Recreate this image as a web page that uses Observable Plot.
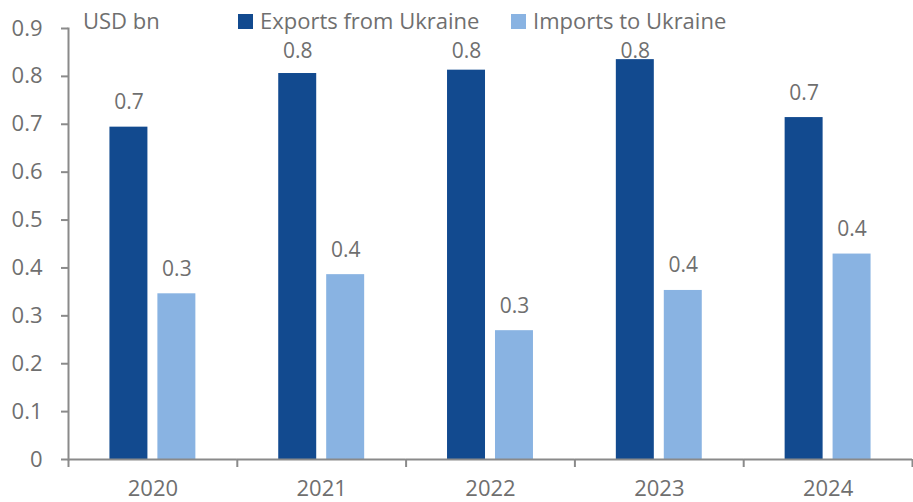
<!DOCTYPE html>
<html>
<head>
<meta charset="utf-8">
<script src="https://cdn.jsdelivr.net/npm/d3@7"></script>
<script src="https://cdn.jsdelivr.net/npm/@observablehq/plot@0.6"></script>
<style>
  html, body { margin: 0; padding: 0; background: #fff; }
  #wrap { position: relative; width: 913px; height: 502px; font-family: "Open Sans", sans-serif; color: #6f6f6f; }
  .lg { position: absolute; font-size: 22px; line-height: 18px; white-space: nowrap; }
  .sw { position: absolute; width: 15px; height: 15px; }
</style>
</head>
<body>
<div id="wrap"></div>
<script>
const years = ["2020", "2021", "2022", "2023", "2024"];
const series = ["Exports from Ukraine", "Imports to Ukraine"];
const exportsVals = [0.694, 0.806, 0.813, 0.835, 0.714];
const importsVals = [0.346, 0.386, 0.269, 0.353, 0.429];
const yTicks = [0, 0.1, 0.2, 0.3, 0.4, 0.5, 0.6, 0.7, 0.8, 0.9];
const colors = ["#124A8F", "#89B3E2"];
const unitLabel = "USD bn";

const data = years.flatMap((yr, i) => [
  {year: yr, series: series[0], value: exportsVals[i]},
  {year: yr, series: series[1], value: importsVals[i]}
]);

const W = 913, H = 502, ML = 68, MR = 1, MT = 28, MB = 43;
const bw = (W - ML - MR) / years.length;
const axisColor = "#8a8a8a";
const textColor = "#6f6f6f";
const labelCap = 0.80; // keep value labels below the legend row

const chart = Plot.plot({
  width: W, height: H,
  marginLeft: ML, marginRight: MR, marginTop: MT, marginBottom: MB,
  style: {fontFamily: "'Open Sans', sans-serif", fontSize: "22px", color: textColor, background: "#fff"},
  fx: {domain: years, padding: 0, round: false, axis: null, label: null},
  x: {domain: series, paddingInner: 0.208, paddingOuter: 0.864, round: false, axis: null, label: null},
  y: {domain: [0, 0.9], axis: null, label: null},
  color: {domain: series, range: colors},
  marks: [
    Plot.barY(data, {fx: "year", x: "series", y: "value", fill: "series"}),
    Plot.text(data, {fx: "year", x: "series", y: d => Math.min(d.value, labelCap), text: d => d.value.toFixed(1),
      dy: -18, lineAnchor: "bottom", fontSize: 21, fill: textColor}),
    Plot.ruleY([0], {stroke: axisColor, strokeWidth: 2}),
    Plot.frame({anchor: "left", facetAnchor: "left", stroke: axisColor, strokeWidth: 2}),
    Plot.axisY({ticks: yTicks, tickSize: 7, tickPadding: 19, label: null,
      tickFormat: d => d === 0 ? "0" : d.toFixed(1), stroke: axisColor, strokeWidth: 2,
      fill: textColor, fontSize: 22}),
    Plot.axisFx({anchor: "bottom", tickSize: 8, tickFormat: () => "", label: null,
      dx: -bw / 2, stroke: axisColor, strokeWidth: 2}),
    Plot.axisFx({anchor: "bottom", ticks: [years[years.length - 1]], tickSize: 8, tickFormat: () => "", label: null,
      dx: bw / 2, stroke: axisColor, strokeWidth: 2}),
    Plot.axisFx({anchor: "bottom", tickSize: 0, tickPadding: 21, label: null,
      fill: textColor, fontSize: 22})
  ]
});

const wrap = document.getElementById("wrap");
wrap.appendChild(chart);

function addText(txt, left, top) {
  const d = document.createElement("div");
  d.className = "lg"; d.textContent = txt;
  d.style.left = left + "px"; d.style.top = top + "px";
  wrap.appendChild(d);
}
function addSwatch(color, left, top) {
  const d = document.createElement("div");
  d.className = "sw"; d.style.background = color;
  d.style.left = left + "px"; d.style.top = top + "px";
  wrap.appendChild(d);
}
addText(unitLabel, 83, 11);
addSwatch(colors[0], 238, 14);
addText(series[0], 260, 11);
addSwatch(colors[1], 511, 14);
addText(series[1], 533, 11);
</script>
</body>
</html>
